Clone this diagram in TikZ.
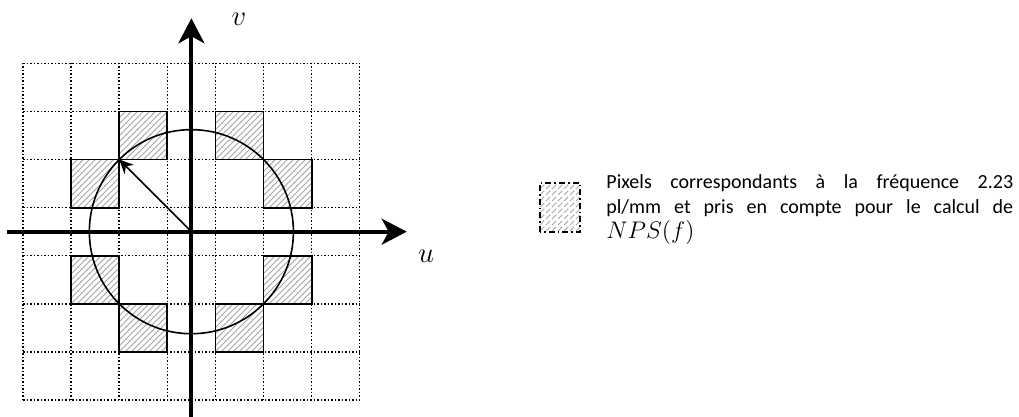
\documentclass[tikz,border=0pt]{standalone}
\usepackage{fontspec}
\setmainfont{Carlito}
\usetikzlibrary{arrows.meta,patterns}

\tikzset{
	gridline/.style={draw=black, line width=0.75pt, dash pattern=on 0.75pt off 1pt},
	axisline/.style={draw=black, line width=1.9pt, -{Stealth[length=12.5pt, width=13pt, inset=3.5pt]}},
	freqcell/.style={draw=black, line width=0.9pt, pattern=north east lines, pattern color=gray!70},
	legendcell/.style={draw=black, line width=0.9pt, dash pattern=on 3pt off 1.5pt on 0.8pt off 1.5pt, pattern=north east lines, pattern color=gray!70},
	axislabel/.style={font=\fontsize{15}{18}\selectfont, inner sep=0pt}
}

\begin{document}
\begin{tikzpicture}[x=24.05pt, y=24.05pt]
	\useasboundingbox (-3.979,-3.852) rectangle (17.206,4.817);
	% grid of pixels
	\foreach \k in {-3.5,-2.5,...,3.5} {
		\draw[gridline] (\k,-3.5) -- (\k,3.5);
		\draw[gridline] (-3.5,\k) -- (3.5,\k);
	}
	% pixels on the ring
	\foreach \cx/\cy in {-1/2, -2/1, 1/2, 2/1, -2/-1, -1/-2, 1/-2, 2/-1}
		\draw[freqcell] (\cx-0.5,\cy-0.5) rectangle ++(1,1);
	% ring and radius
	\coordinate (O) at (0,0);
	\coordinate (R) at (-1.5,1.5);
	\draw[draw=black, line width=0.8pt] (O) circle (2.1213);
	\draw[draw=black, line width=0.8pt, -{Stealth[length=7pt, width=6.5pt]}] (O) -- (R);
	% axes
	\coordinate (uStart) at (-3.83,0);
	\coordinate (uEnd) at (4.476,0);
	\coordinate (vStart) at (0,-3.9);
	\coordinate (vEnd) at (0,4.437);
	\draw[axisline] (uStart) -- (uEnd);
	\draw[axisline] (vStart) -- (vEnd);
	\node[axislabel] (uLabel) at (4.88,-0.52) {$u$};
	\node[axislabel] (vLabel) at (0.99,4.42) {$v$};
	% legend
	\draw[legendcell] (7.247,-0.006) rectangle (8.079,1.012);
	\node[anchor=base west, inner sep=0pt, text width=203.4pt, align=justify,
		font=\fontsize{10}{12.5}\selectfont] (legendText) at (8.62,0.888)
		{\hyphenpenalty=10000 Pixels correspondants à la fréquence 2.23\linebreak pl/mm et pris en compte pour le calcul de\linebreak {\fontsize{11.5}{12.5}\selectfont$NPS(f)$}};
\end{tikzpicture}
\end{document}
